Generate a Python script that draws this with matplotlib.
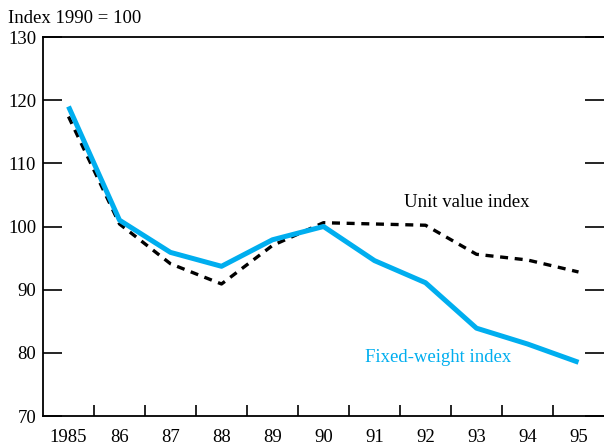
import matplotlib
matplotlib.use("Agg")
import matplotlib.pyplot as plt
from matplotlib.ticker import FixedLocator

plt.rcParams['font.family'] = ['Liberation Serif', 'DejaVu Serif']

years = [1985, 1986, 1987, 1988, 1989, 1990, 1991, 1992, 1993, 1994, 1995]
year_labels = ['1985', '86', '87', '88', '89', '90', '91', '92', '93', '94', '95']
fixed_weight = [119.0, 101.0, 95.9, 93.7, 97.9, 100.0, 94.6, 91.1, 83.9, 81.4, 78.5]
unit_value = [117.4, 100.4, 94.1, 90.9, 97.0, 100.6, 100.4, 100.2, 95.6, 94.7, 92.8]
y_ticks = [70, 80, 90, 100, 110, 120, 130]

cyan = '#00AEEF'
fs = 13.5

fig = plt.figure(figsize=(6.04, 4.44), dpi=100)
ax = fig.add_axes([43/604, 28/444, 561/604, 379/444])

ax.plot(years, unit_value, color='black', lw=2.4, dashes=(2.4, 2.0), zorder=3)
ax.plot(years, fixed_weight, color=cyan, lw=3.6, solid_capstyle='butt', zorder=4)

ax.set_xlim(1984.5, 1995.5)
ax.set_ylim(70, 130)

ax.set_xticks(years)
ax.set_xticklabels(year_labels)
ax.xaxis.set_minor_locator(FixedLocator([y + 0.5 for y in years[:-1]]))
ax.tick_params(axis='x', which='major', length=0, pad=9, labelsize=fs)
ax.tick_params(axis='x', which='minor', direction='in', length=8, width=1.2)

ax.set_yticks(y_ticks)
ax.tick_params(axis='y', which='major', direction='in', length=14, width=1.2,
               right=True, labelsize=fs, pad=5)

ax.spines['right'].set_visible(False)
for s in ['left', 'top', 'bottom']:
    ax.spines[s].set_linewidth(1.3)

fig.text(8/604, 1 - 10/444, 'Index 1990 = 100', ha='left', va='top', fontsize=fs)

ax.text(1992.8, 103.8, 'Unit value index', ha='center', va='center', fontsize=fs, color='black')
ax.text(1992.25, 79.2, 'Fixed-weight index', ha='center', va='center', fontsize=fs, color=cyan)

fig.savefig('out.png', dpi=100)
